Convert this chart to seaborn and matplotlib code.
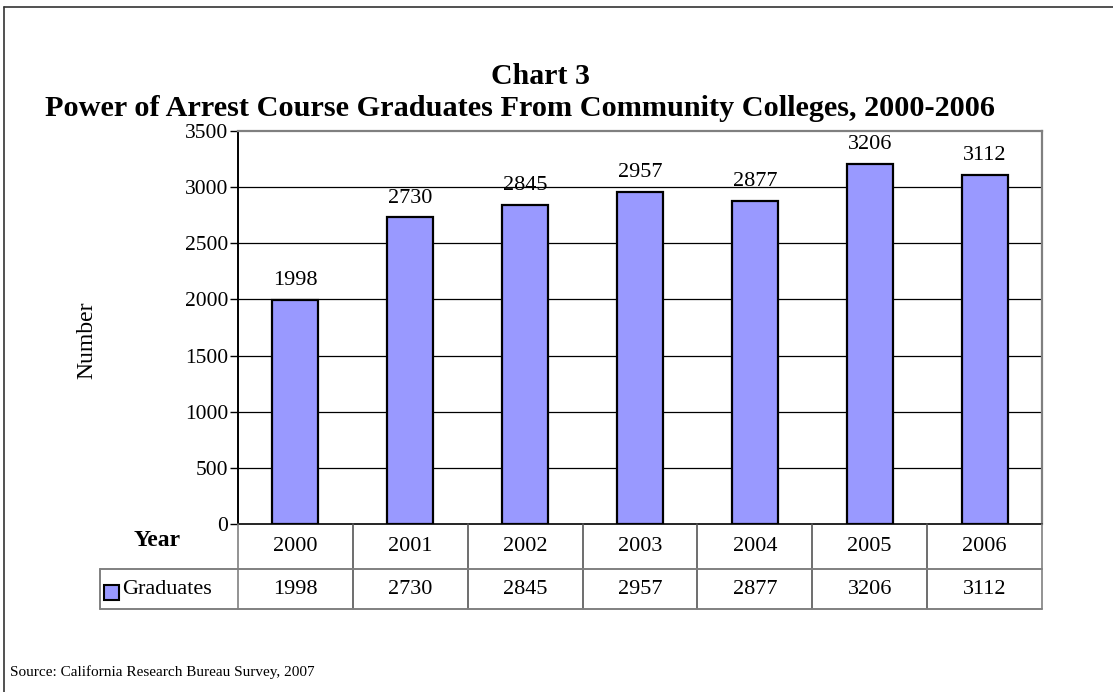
import matplotlib
matplotlib.use("Agg")
import matplotlib.pyplot as plt
import matplotlib.transforms as mtransforms
from matplotlib.lines import Line2D
from matplotlib.patches import Rectangle
import seaborn as sns
import pandas as pd

# Data
years = ["2000", "2001", "2002", "2003", "2004", "2005", "2006"]
graduates = [1998, 2730, 2845, 2957, 2877, 3206, 3112]
y_ticks = [0, 500, 1000, 1500, 2000, 2500, 3000, 3500]

title_line1 = "Chart 3"
title_line2 = "Power of Arrest Course Graduates From Community Colleges, 2000-2006"
source_note = "Source: California Research Bureau Survey, 2007"

BAR_COLOR = "#9999FF"
GRID_GREY = "#808080"
SERIF = ["Liberation Serif", "DejaVu Serif"]
FS = 16

sns.set_theme(style="white")
plt.rcParams["font.family"] = SERIF
plt.rcParams["text.color"] = "black"
plt.rcParams["ytick.color"] = "black"
plt.rcParams["ytick.labelcolor"] = "black"

W, H = 1113, 692
fig = plt.figure(figsize=(W / 100, H / 100), dpi=100)
fig.patch.set_facecolor("white")


def fx(x):
    return x / W


def fy(y):
    return 1 - y / H


# Plot area in pixel coordinates
left, right, top, bottom = 238, 1042, 131, 524
ax = fig.add_axes([fx(left), fy(bottom), (right - left) / W, (bottom - top) / H])

df = pd.DataFrame({"Year": years, "Graduates": graduates})
sns.barplot(data=df, x="Year", y="Graduates", color=BAR_COLOR, saturation=1,
            edgecolor="black", linewidth=1.6, width=0.4, ax=ax, zorder=3)

ax.set_xlim(-0.5, len(years) - 0.5)
ax.set_ylim(0, 3500)
ax.set_yticks(y_ticks)
ax.set_yticklabels([str(t) for t in y_ticks], fontsize=15.5, family=SERIF, color="black")
ax.set_xticks([])
ax.set_xlabel("")
ax.set_ylabel("")
ax.tick_params(axis="y", direction="out", length=5.5, width=1, color="black", pad=1.5, left=True)

for t in y_ticks[1:-1]:
    ax.axhline(t, color="black", linewidth=0.9, zorder=1)

for side in ["top", "right"]:
    ax.spines[side].set_color(GRID_GREY)
    ax.spines[side].set_linewidth(1.6)
ax.spines["left"].set_color("black")
ax.spines["left"].set_linewidth(1.4)
ax.spines["bottom"].set_color("black")
ax.spines["bottom"].set_linewidth(1.2)

# Value labels above bars
for i, v in enumerate(graduates):
    ax.annotate(str(v), xy=(i, v), xytext=(0, 7), textcoords="offset points",
                ha="center", va="bottom", fontsize=FS, family=SERIF, color="black")

# Axis title
fig.text(fx(87), fy(340), "Number", rotation=90, ha="center", va="center",
         fontsize=17, family=SERIF, color="black")

# Titles
fig.text(fx(540), fy(84), title_line1, ha="center", va="baseline",
         fontsize=21.5, fontweight="bold", family=SERIF, color="black")
fig.text(fx(520), fy(116), title_line2, ha="center", va="baseline",
         fontsize=21.8, fontweight="bold", family=SERIF, color="black")

# Data table under the axis
row1_top, row1_bot, row2_bot = 524, 569, 609
legend_left = 100
tr = mtransforms.blended_transform_factory(ax.transData, fig.transFigure)
table_color = "#555555"

for i in range(len(years) + 1):
    xpos = i - 0.5
    fig.add_artist(Line2D([xpos, xpos], [fy(row1_top), fy(row2_bot)], transform=tr,
                          color=table_color if 0 < i < len(years) else GRID_GREY,
                          linewidth=1.2))
fig.add_artist(Line2D([fx(legend_left), fx(right)], [fy(row1_bot), fy(row1_bot)],
                      transform=fig.transFigure, color=GRID_GREY, linewidth=1.4))
fig.add_artist(Line2D([fx(legend_left), fx(right)], [fy(row2_bot), fy(row2_bot)],
                      transform=fig.transFigure, color=GRID_GREY, linewidth=1.4))
fig.add_artist(Line2D([fx(legend_left), fx(legend_left)], [fy(row1_bot), fy(row2_bot)],
                      transform=fig.transFigure, color=GRID_GREY, linewidth=1.4))

for i, (yr, v) in enumerate(zip(years, graduates)):
    fig.text(i, fy((row1_top + row1_bot) / 2), yr, transform=tr, ha="center",
             va="center", fontsize=FS, family=SERIF, color="black")
    fig.text(i, fy((row1_bot + row2_bot) / 2), str(v), transform=tr, ha="center",
             va="center", fontsize=FS, family=SERIF, color="black")

fig.text(fx(157), fy(541), "Year", ha="center", va="center", fontsize=17,
         fontweight="bold", family=SERIF, color="black")

# Legend key in the data table
fig.add_artist(Rectangle((fx(104), fy(600)), 15 / W, 15 / H, transform=fig.transFigure,
                         facecolor=BAR_COLOR, edgecolor="black", linewidth=1.5))
fig.text(fx(122), fy(590), "Graduates", ha="left", va="center", fontsize=FS,
         family=SERIF, color="black")

# Source note
fig.text(fx(10), fy(672), source_note, ha="left", va="center", fontsize=11,
         family=SERIF, color="black")

# Chart frame (top and left edges visible)
fig.add_artist(Line2D([fx(4), 1.0], [fy(7), fy(7)], transform=fig.transFigure,
                      color="#333333", linewidth=1.2))
fig.add_artist(Line2D([fx(4), fx(4)], [fy(7), 0.0], transform=fig.transFigure,
                      color="#333333", linewidth=1.2))

fig.savefig("out.png", dpi=100, facecolor="white")
